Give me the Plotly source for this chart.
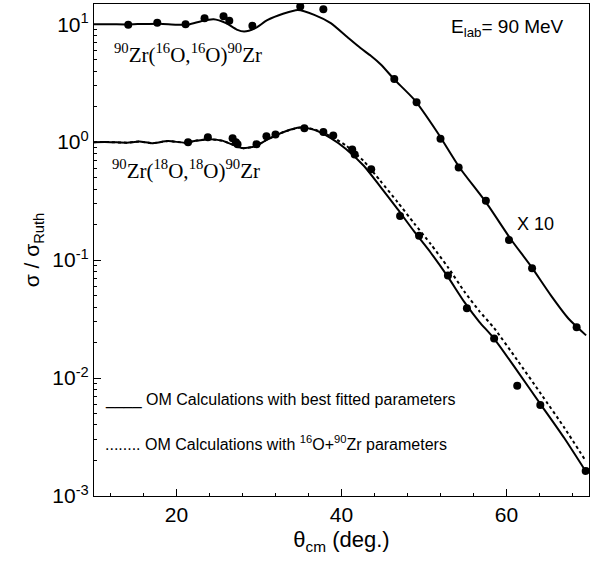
import plotly.graph_objects as go

# ---- measured data (16O + 90Zr, multiplied by 10) ----
theta_o16 = [14.15, 17.67, 21.1, 23.4, 25.7, 26.4, 29.2, 35.0, 37.8, 46.4, 49.1, 52.0, 54.2, 57.5, 60.3, 63.1, 68.5]
sig_o16 = [9.9, 10.3, 10.0, 11.2, 11.7, 10.7, 9.7, 14.1, 13.4, 3.43, 2.18, 1.07, 0.61, 0.318, 0.148, 0.0853, 0.027]

# ---- measured data (18O + 90Zr) ----
theta_o18 = [21.4, 23.8, 26.8, 27.2, 27.4, 29.7, 30.9, 32.0, 35.5, 37.8, 39.0, 41.3, 41.6, 43.6, 47.1, 49.4, 52.9, 55.2, 58.5, 61.3, 64.1, 69.6]
sig_o18 = [1.0, 1.10, 1.08, 1.0, 0.96, 0.96, 1.12, 1.16, 1.31, 1.22, 1.14, 0.867, 0.787, 0.588, 0.237, 0.161, 0.074, 0.039, 0.0216, 0.0086, 0.0059, 0.00163]

# ---- OM best fit, 16O (x10) ----
fit16_theta = [10, 12, 14, 16, 18, 20, 21.5, 23, 24.5, 26, 27.3, 28.2, 29.5, 31, 33, 34.7, 36.7, 38.7, 40.7, 42.3, 43.55, 44.8, 46.4, 48.8, 51.65, 54.3, 57.5, 60.5, 63, 65.4, 67.5, 69.65]
fit16_sig = [10.0, 10.0, 9.95, 10.05, 10.1, 9.9, 9.95, 10.6, 11.0, 10.2, 9.0, 8.65, 9.2, 10.8, 12.3, 13.2, 12.0, 10.2, 7.77, 6.27, 5.4, 4.53, 3.4, 2.3, 1.2, 0.61, 0.31, 0.151, 0.088, 0.050, 0.032, 0.023]

# ---- OM best fit, 18O ----
fit18_theta = [10, 12, 14, 15.5, 17, 19, 21, 22.5, 24, 25.5, 27, 28, 29.5, 31, 33, 35, 36.7, 38.7, 40.5, 42.7, 44.7, 46.8, 48.8, 50.8, 52.9, 54.9, 56.7, 58.5, 61.3, 64.2, 67, 69.65]
fit18_sig = [1.0, 1.0, 0.99, 1.01, 0.98, 1.02, 0.99, 1.03, 1.06, 1.03, 0.94, 0.89, 0.92, 1.05, 1.22, 1.33, 1.27, 1.08, 0.88, 0.63, 0.42, 0.27, 0.175, 0.116, 0.072, 0.044, 0.030, 0.0216, 0.0115, 0.0059, 0.0031, 0.0016]

# ---- OM with 16O+90Zr parameters, 18O ----
dot18_theta = [10, 12, 14, 15.5, 17, 19, 21, 22.5, 24, 25.5, 27, 28, 29.5, 31, 33, 35, 36.7, 38.7, 40.5, 42.7, 44.7, 46.8, 48.8, 50.8, 52.9, 54.9, 56.7, 58.5, 61.3, 64.2, 67, 69.65]
dot18_sig = [1.0, 1.0, 0.99, 1.01, 0.98, 1.02, 0.99, 1.03, 1.06, 1.03, 0.94, 0.89, 0.92, 1.05, 1.22, 1.33, 1.28, 1.12, 0.94, 0.69, 0.47, 0.31, 0.205, 0.137, 0.087, 0.054, 0.037, 0.0265, 0.0142, 0.0073, 0.0038, 0.00196]

y_tickvals = [0.001, 0.01, 0.1, 1, 10]
y_ticktext = ["10<sup>-3</sup>", "10<sup>-2</sup>", "10<sup>-1</sup>", "10<sup>0</sup>", "10<sup>1</sup>"]
y_minor = [m * d for d in [0.001, 0.01, 0.1, 1] for m in range(2, 10)]
x_tickvals = [20, 40, 60]

fig = go.Figure()
fig.add_trace(go.Scatter(x=dot18_theta, y=dot18_sig, mode="lines",
                         line=dict(color="black", width=2, dash="dot", shape="spline", smoothing=0.6)))
fig.add_trace(go.Scatter(x=fit18_theta, y=fit18_sig, mode="lines",
                         line=dict(color="black", width=2, shape="spline", smoothing=0.6)))
fig.add_trace(go.Scatter(x=fit16_theta, y=fit16_sig, mode="lines",
                         line=dict(color="black", width=2, shape="spline", smoothing=0.6)))
fig.add_trace(go.Scatter(x=theta_o16, y=sig_o16, mode="markers",
                         marker=dict(color="black", size=8)))
fig.add_trace(go.Scatter(x=theta_o18, y=sig_o18, mode="markers",
                         marker=dict(color="black", size=8)))

sans = "Liberation Sans, Arial, sans-serif"
serif = "Liberation Serif, Times New Roman, serif"

ann = [
    dict(x=21.35, y=0.749, text="<sup>90</sup>Zr(<sup>16</sup>O,<sup>16</sup>O)<sup>90</sup>Zr",
         font=dict(family=serif, size=21)),
    dict(x=21.1, y=-0.231, text="<sup>90</sup>Zr(<sup>18</sup>O,<sup>18</sup>O)<sup>90</sup>Zr",
         font=dict(family=serif, size=21)),
    dict(x=53.0, y=0.969, text="E<sub>lab</sub>= 90 MeV", xanchor="left",
         font=dict(family=sans, size=19)),
    dict(x=61.0, y=-0.695, text="X 10", xanchor="left", font=dict(family=sans, size=18)),
    dict(x=11.15, y=-2.182, text="____ OM Calculations with best fitted parameters", xanchor="left",
         font=dict(family=sans, size=16)),
    dict(x=11.15, y=-2.553, text="........ OM Calculations with <sup>16</sup>O+<sup>90</sup>Zr parameters",
         xanchor="left", font=dict(family=sans, size=16)),
]
for a in ann:
    a.update(xref="x", yref="y", showarrow=False, font_color="black")
    fig.add_annotation(**a)

fig.update_layout(
    width=605, height=562,
    margin=dict(l=94, r=16, t=4, b=66),
    plot_bgcolor="white", paper_bgcolor="white",
    showlegend=False,
    font=dict(family=sans, color="black"),
)
fig.update_xaxes(range=[10, 70], tickvals=x_tickvals, ticks="inside", ticklen=7, tickcolor="black",
                 showline=True, linecolor="black", linewidth=1.2, mirror=True, showgrid=False, zeroline=False,
                 tickfont=dict(size=21, family=sans),
                 minor=dict(dtick=4, tick0=0, ticks="inside", ticklen=3, tickcolor="black", showgrid=False),
                 title=dict(text="θ<sub>cm</sub> (deg.)", font=dict(size=22, family=sans), standoff=6))
fig.update_yaxes(type="log", range=[-3, 1.171], tickvals=y_tickvals, ticktext=y_ticktext,
                 ticks="inside", ticklen=7, tickcolor="black",
                 showline=True, linecolor="black", linewidth=1.2, mirror=True, showgrid=False, zeroline=False,
                 tickfont=dict(size=21, family=sans),
                 minor=dict(tickvals=y_minor, ticks="inside", ticklen=3, tickcolor="black", showgrid=False),
                 title=dict(text="σ / σ<sub>Ruth</sub>", font=dict(size=21, family=sans), standoff=6))

fig.write_html("out.html")
